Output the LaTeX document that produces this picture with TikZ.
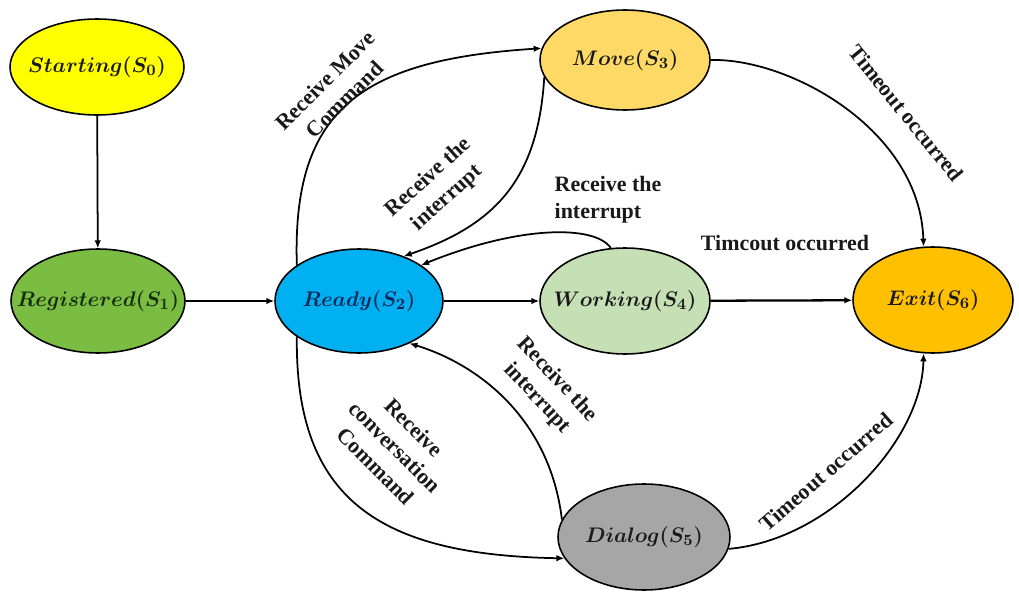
\documentclass[tikz,border=0pt]{standalone}
\usepackage{fontspec}
\setmainfont{Liberation Serif}
\usetikzlibrary{shapes.geometric,arrows.meta}

\definecolor{fillStart}{RGB}{255,255,0}
\definecolor{fillReg}{RGB}{122,189,66}
\definecolor{fillReady}{RGB}{0,176,240}
\definecolor{fillMove}{RGB}{255,217,102}
\definecolor{fillWork}{RGB}{197,224,180}
\definecolor{fillDialog}{RGB}{166,166,166}
\definecolor{fillExit}{RGB}{255,192,0}
\definecolor{inkDark}{RGB}{25,25,25}
\definecolor{inkGreen}{RGB}{22,45,10}
\definecolor{inkNavy}{RGB}{10,40,90}

\begin{document}
\begin{tikzpicture}[x=0.02cm,y=-0.02cm,
  state/.style={ellipse,draw=black,line width=0.9pt,inner sep=0pt},
  statetext/.style={font=\fontsize{12.8}{15}\selectfont\boldmath,text=inkDark,inner sep=0pt},
  edge/.style={line width=1pt,-{Latex[length=4.5pt,width=3.8pt]}},
  thickedge/.style={edge,line width=1.3pt},
  lbl/.style={font=\fontsize{12.5}{15.5}\selectfont\bfseries,align=center,inner sep=0pt,text=inkDark}]

\useasboundingbox (0,0) rectangle (1019,595);

% states
\node[state,fill=fillStart, minimum width=3.48cm,minimum height=1.92cm] (s0) at (97,67)  {};
\node[state,fill=fillReg,   minimum width=3.48cm,minimum height=2.08cm] (s1) at (98,301) {};
\node[state,fill=fillReady, minimum width=3.36cm,minimum height=2.08cm] (s2) at (359,301) {};
\node[state,fill=fillMove,  minimum width=3.40cm,minimum height=2.00cm] (s3) at (625,60) {};
\node[state,fill=fillWork,  minimum width=3.40cm,minimum height=2.12cm] (s4) at (625,301) {};
\node[state,fill=fillDialog,minimum width=3.44cm,minimum height=2.12cm] (s5) at (644,537) {};
\node[state,fill=fillExit,  minimum width=3.20cm,minimum height=2.12cm] (s6) at (933,300) {};

% state names
\node[statetext] (t0) at (s0) {$Starting(S_0)$};
\node[statetext,text=inkGreen] (t1) at (s1) {$Registered(S_1)$};
\node[statetext,text=inkNavy] (t2) at (s2) {$Ready(S_2)$};
\node[statetext] (t3) at (s3) {$Move(S_3)$};
\node[statetext] (t4) at (s4) {$Working(S_4)$};
\node[statetext] (t5) at (s5) {$Dialog(S_5)$};
\node[statetext] (t6) at (s6) {$Exit(S_6)$};

% straight transitions
\draw[edge] (s0) -- (s1);
\draw[thickedge] (s1) -- (s2);
\draw[thickedge] (s2) -- (s4);
\draw[thickedge] (s4) -- (s6);

% curved transitions
\draw[edge] (s2.150) .. controls (292,110) and (360,60) .. (s3.172);
\draw[edge] (s3.192) .. controls (538,180) and (495,225) .. (s2.45);
\draw[edge] (s4.105) .. controls (595,225) and (520,225) .. (s2.30);
\draw[edge] (s3.east) .. controls (790,58) and (920,130) .. (s6.100);
\draw[edge] (s2.210) .. controls (295,500) and (380,555) .. (s5.195);
\draw[edge] (s5.168) .. controls (550,420) and (480,365) .. (s2.-40);
\draw[edge] (s5.-8) .. controls (830,540) and (922,440) .. (s6.-100);

% transition labels
\node[lbl,rotate=45]  (l1) at (335,90)  {Receive Move\\Command};
\node[lbl,rotate=42]  (l2) at (438,188) {Receive the\\interrupt};
\node[lbl,align=left] (l3) at (608,200) {Receive the\\interrupt};
\node[lbl]            (l4) at (785,243) {Timcout occurred};
\node[lbl,rotate=-51] (l5) at (906,113) {Timeout occurred};
\node[lbl,rotate=-47] (l6) at (547,389) {Receive the\\interrupt};
\node[lbl,rotate=-45] (l7) at (395,447) {Receive\\conversation\\Command};
\node[lbl,rotate=41]  (l8) at (826,472) {Timeout occurred};
\end{tikzpicture}
\end{document}
